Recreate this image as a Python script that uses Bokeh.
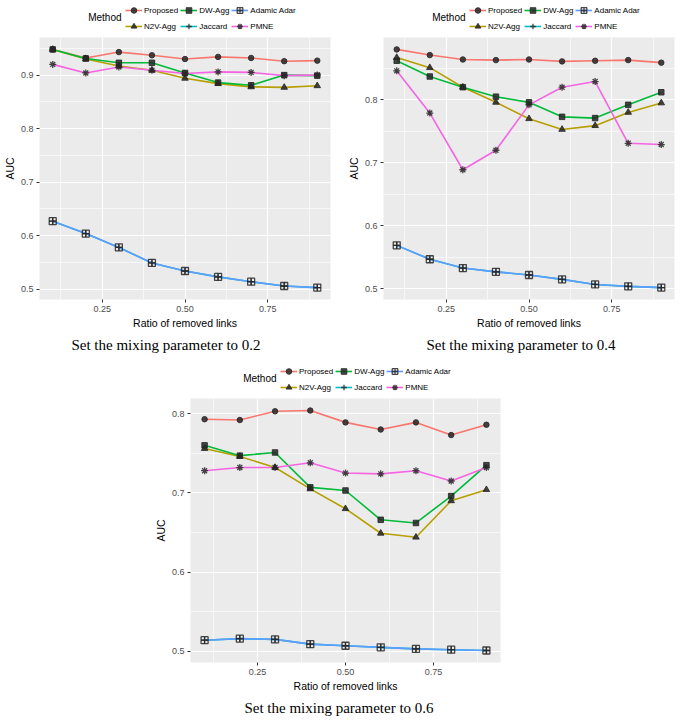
from bokeh.plotting import figure
from bokeh.models import (Range1d, FixedTicker, NumeralTickFormatter, Legend,
                          LegendItem, Label, Div)
from bokeh.layouts import column, row
from bokeh.embed import file_html
from bokeh.resources import INLINE

# ---------------- data ----------------
ratio = [0.1, 0.2, 0.3, 0.4, 0.5, 0.6, 0.7, 0.8, 0.9]
methods = ["Proposed", "N2V-Agg", "DW-Agg", "Jaccard", "Adamic Adar", "PMNE"]
x_ticks = [0.25, 0.50, 0.75]
y_ticks = [0.5, 0.6, 0.7, 0.8, 0.9]
captions = ["Set the mixing parameter to 0.2",
            "Set the mixing parameter to 0.4",
            "Set the mixing parameter to 0.6"]

# mixing parameter 0.2
mu02_proposed = [0.948, 0.932, 0.943, 0.937, 0.930, 0.934, 0.932, 0.926, 0.927]
mu02_n2v = [0.948, 0.930, 0.917, 0.909, 0.894, 0.884, 0.878, 0.877, 0.880]
mu02_dw = [0.948, 0.931, 0.923, 0.923, 0.904, 0.886, 0.881, 0.900, 0.899]
mu02_jaccard = [0.627, 0.604, 0.578, 0.549, 0.534, 0.523, 0.514, 0.506, 0.503]
mu02_adamic = [0.627, 0.604, 0.578, 0.549, 0.534, 0.523, 0.514, 0.506, 0.503]
mu02_pmne = [0.920, 0.904, 0.915, 0.909, 0.903, 0.906, 0.905, 0.899, 0.900]

# mixing parameter 0.4
mu04_proposed = [0.880, 0.871, 0.864, 0.863, 0.864, 0.861, 0.862, 0.863, 0.859]
mu04_n2v = [0.867, 0.851, 0.820, 0.796, 0.770, 0.753, 0.759, 0.780, 0.795]
mu04_dw = [0.862, 0.837, 0.820, 0.805, 0.796, 0.773, 0.771, 0.792, 0.812]
mu04_jaccard = [0.569, 0.547, 0.533, 0.527, 0.522, 0.515, 0.507, 0.504, 0.502]
mu04_adamic = [0.569, 0.547, 0.533, 0.527, 0.522, 0.515, 0.507, 0.504, 0.502]
mu04_pmne = [0.846, 0.779, 0.689, 0.720, 0.792, 0.820, 0.829, 0.731, 0.729]

# mixing parameter 0.6
mu06_proposed = [0.793, 0.792, 0.803, 0.804, 0.789, 0.780, 0.789, 0.773, 0.786]
mu06_n2v = [0.756, 0.746, 0.732, 0.705, 0.680, 0.649, 0.644, 0.690, 0.704]
mu06_dw = [0.760, 0.747, 0.751, 0.707, 0.703, 0.666, 0.662, 0.696, 0.735]
mu06_jaccard = [0.514, 0.516, 0.515, 0.509, 0.507, 0.505, 0.503, 0.502, 0.501]
mu06_adamic = [0.514, 0.516, 0.515, 0.509, 0.507, 0.505, 0.503, 0.502, 0.501]
mu06_pmne = [0.728, 0.732, 0.732, 0.738, 0.725, 0.724, 0.728, 0.715, 0.732]

# ---------------- style ----------------
colors = ["#F8766D", "#B79F00", "#00BA38", "#00BFC4", "#619CFF", "#F564E3"]
markers = ["circle", "triangle", "square", "cross", "square_cross", "asterisk"]
msizes = [5.5, 6.5, 5.5, 7, 7, 7]
mfill = [True, True, True, False, False, False]
legend_order = [0, 2, 4, 1, 3, 5]   # row-major order of the 2x3 key
SANS = "Liberation Sans"
MK = "#262626"


def add_points(fig, xs, ys, m, s, filled):
    return fig.scatter(xs, ys, marker=m, size=s, line_color=MK,
                       fill_color=MK if filled else None,
                       fill_alpha=0.85, line_alpha=0.85,
                       line_width=1.0 if filled else 1.3)


def make_plot(series, width, height, left_border):
    allv = [v for s in series for v in s]
    lo, hi = min(allv), max(allv)
    pad = 0.05 * (hi - lo)
    xpad = 0.05 * (max(ratio) - min(ratio))
    p = figure(width=width, height=height,
               x_range=Range1d(min(ratio) - xpad, max(ratio) + xpad),
               y_range=Range1d(lo - pad, hi + pad),
               output_backend="svg", toolbar_location=None,
               min_border_left=left_border, min_border_right=4,
               min_border_top=3, min_border_bottom=2)
    p.background_fill_color = "#EBEBEB"
    p.border_fill_color = "white"
    p.outline_line_color = None

    p.xaxis.ticker = FixedTicker(ticks=x_ticks,
                                 minor_ticks=[0.125, 0.375, 0.625, 0.875])
    p.yaxis.ticker = FixedTicker(ticks=y_ticks,
                                 minor_ticks=[0.45, 0.55, 0.65, 0.75, 0.85, 0.95])
    p.xaxis.formatter = NumeralTickFormatter(format="0.00")
    p.yaxis.formatter = NumeralTickFormatter(format="0.0")
    for ax in (p.xaxis[0], p.yaxis[0]):
        ax.axis_line_color = None
        ax.major_tick_line_color = "#333333"
        ax.major_tick_out = 3
        ax.major_tick_in = 0
        ax.minor_tick_line_color = None
        ax.major_label_text_font = SANS
        ax.major_label_text_font_size = "9px"
        ax.major_label_text_color = "#4D4D4D"
        ax.major_label_standoff = 2
        ax.axis_label_text_font = SANS
        ax.axis_label_text_font_size = "10.5px"
        ax.axis_label_text_font_style = "normal"
        ax.axis_label_text_color = "black"
        ax.axis_label_standoff = 2
    p.xaxis.axis_label = "Ratio of removed links"
    p.yaxis.axis_label = "AUC"

    for g in (p.xgrid[0], p.ygrid[0]):
        g.grid_line_color = "white"
        g.grid_line_width = 1.2
        g.minor_grid_line_color = "white"
        g.minor_grid_line_width = 0.6

    for vals, c in zip(series, colors):
        p.line(ratio, vals, line_color=c, line_width=1.6)
    for vals, m, s, f in zip(series, markers, msizes, mfill):
        add_points(p, ratio, vals, m, s, f)
    return p


def make_key(width, left_border, lx):
    # key strip; its frame lines up with the plot frame below it
    f = figure(width=width, height=34, x_range=Range1d(0, 1),
               y_range=Range1d(0, 1), output_backend="svg",
               toolbar_location=None, x_axis_location=None,
               y_axis_location=None, min_border=0,
               min_border_left=left_border, min_border_right=4)
    f.grid.visible = False
    f.outline_line_color = None
    lines, pts = [], []
    hidden_x, hidden_y = [-5, -4], [-5, -4]   # outside the strip's range
    for c, m, s, fl in zip(colors, markers, msizes, mfill):
        lines.append(f.line(hidden_x, hidden_y, line_color=c, line_width=1.6))
        pts.append(add_points(f, hidden_x, hidden_y, m, s, fl))
    items = [LegendItem(label=methods[i], renderers=[lines[i], pts[i]])
             for i in legend_order]
    legend = Legend(items=items, orientation="horizontal", ncols=3,
                    location=(lx, 1), margin=0, padding=1, spacing=2,
                    glyph_width=17, glyph_height=14, label_standoff=2,
                    label_text_font=SANS, label_text_font_size="8px",
                    label_text_color="black", label_height=14,
                    border_line_color=None, background_fill_alpha=0)
    f.add_layout(legend)
    f.add_layout(Label(x=lx - 4, y=17, x_units="screen", y_units="screen",
                       text="Method", text_font=SANS, text_font_size="10px",
                       text_color="black", text_align="right",
                       text_baseline="middle"))
    return f


def make_caption(text, width, shift, inner_w):
    return Div(text=('<div style="margin-left:%dpx;width:%dpx;'
                     'text-align:center;font-family:\'Liberation Serif\',serif;'
                     'font-size:15px;line-height:18px;color:black;">%s</div>')
               % (shift, inner_w, text),
               width=width, height=20)


p1 = make_plot([mu02_proposed, mu02_n2v, mu02_dw, mu02_jaccard, mu02_adamic,
                mu02_pmne], 334, 297, 28)
p2 = make_plot([mu04_proposed, mu04_n2v, mu04_dw, mu04_jaccard, mu04_adamic,
                mu04_pmne], 334, 297, 28)
p3 = make_plot([mu06_proposed, mu06_n2v, mu06_dw, mu06_jaccard, mu06_adamic,
                mu06_pmne], 504, 299, 190)

top = row(column(make_key(334, 28, 86), p1,
                 make_caption(captions[0], 334, 0, 322)),
          column(make_key(334, 28, 86), p2,
                 make_caption(captions[1], 334, 10, 324)))
bottom = column(make_key(504, 190, 90), p3,
                make_caption(captions[2], 504, 170, 328))
layout = column(top, bottom, spacing=0)

open("out.html", "w").write(file_html(layout, INLINE))
